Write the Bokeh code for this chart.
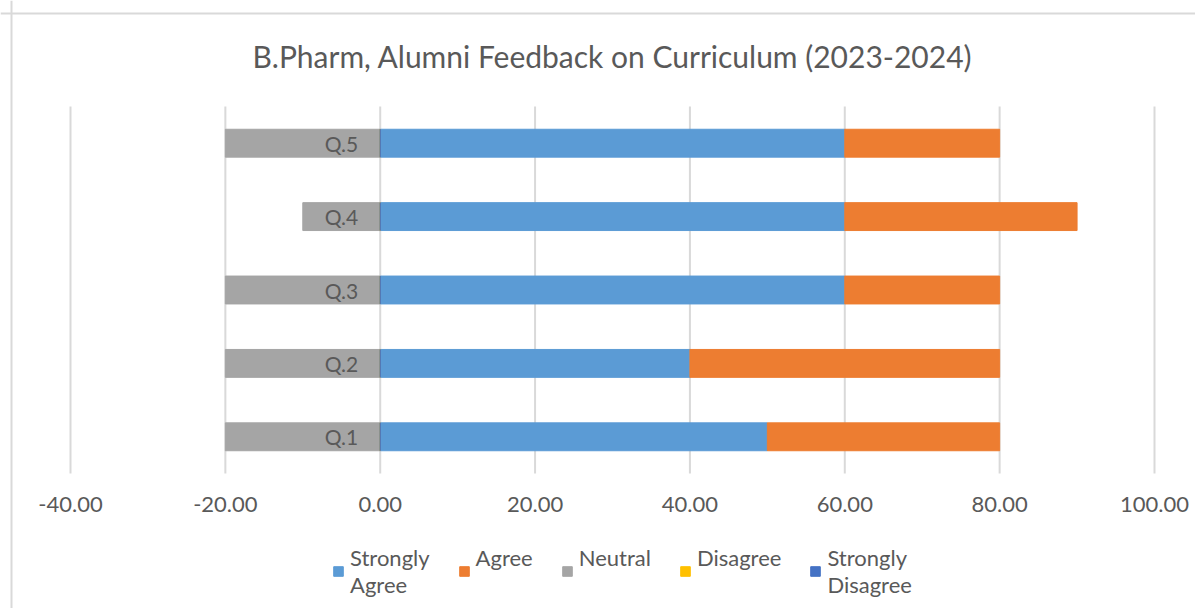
from bokeh.plotting import figure
from bokeh.models import (Range1d, FixedTicker, NumeralTickFormatter, LinearAxis,
                          Legend, LegendItem, ColumnDataSource, Label, Span)
from bokeh.embed import file_html
from bokeh.resources import INLINE

questions = ["Q.1", "Q.2", "Q.3", "Q.4", "Q.5"]
strongly_agree = [50, 40, 60, 60, 60]
agree = [30, 40, 20, 30, 20]
neutral = [20, 20, 20, 10, 20]
disagree = [0, 0, 0, 0, 0]
strongly_disagree = [0, 0, 0, 0, 0]
x_ticks = [-40, -20, 0, 20, 40, 60, 80, 100]
title_text = "B.Pharm, Alumni Feedback on Curriculum (2023-2024)"

FONT = "Lato"
TXT = "#595959"
GRID = "#d9d9d9"

# ---- layout (pixels) ----
W, H = 1195, 608
PLOT_L, PLOT_R = 70, 1154      # x = -40 .. 100
PLOT_T, PLOT_B = 106, 473      # category band top/bottom
XMIN, XMAX = x_ticks[0], x_ticks[-1]
n = len(questions)
ppx = (PLOT_R - PLOT_L) / (XMAX - XMIN)
ppy = (PLOT_B - PLOT_T) / n
x0 = XMIN - PLOT_L / ppx
x1 = XMAX + (W - PLOT_R) / ppx
y_top_band = n + 0.5
y_bot_band = 0.5
y1 = y_top_band + PLOT_T / ppy
y0 = y_bot_band - (H - PLOT_B) / ppy


def px2x(px):
    return x0 + px / ppx


def px2y(py):
    return y1 - py / ppy


p = figure(width=W, height=H, output_backend="svg", toolbar_location=None,
           x_range=Range1d(x0, x1), y_range=Range1d(y0, y1),
           x_axis_location=None, y_axis_location=None,
           min_border=0)
p.outline_line_color = None
p.background_fill_color = "white"
p.border_fill_color = "white"
p.xgrid.grid_line_color = None
p.ygrid.grid_line_color = None

# chart border (left & top edges visible)
p.add_layout(Span(location=px2x(11), dimension="height", line_color=GRID, line_width=2))
p.add_layout(Span(location=px2y(13), dimension="width", line_color=GRID, line_width=2))

# vertical gridlines limited to the category band
p.segment(x0=x_ticks, x1=x_ticks, y0=[y_bot_band] * len(x_ticks), y1=[y_top_band] * len(x_ticks),
          line_color=GRID, line_width=2)

ypos = list(range(1, n + 1))
a_right = [s + a for s, a in zip(strongly_agree, agree)]
n_left = [-v for v in neutral]
src = ColumnDataSource(dict(y=ypos, sa=strongly_agree, ar=a_right, nl=n_left,
                            zero=[0] * n, d=disagree, sd=strongly_disagree))
BH = 0.38
r_sa = p.hbar(y="y", left="zero", right="sa", height=BH, source=src, color="#5B9BD5")
r_a = p.hbar(y="y", left="sa", right="ar", height=BH, source=src, color="#ED7D31")
r_n = p.hbar(y="y", left="nl", right="zero", height=BH, source=src, color="#A5A5A5")
r_d = p.hbar(y="y", left="zero", right="d", height=BH, source=src, color="#FFC000")
r_sd = p.hbar(y="y", left="zero", right="sd", height=BH, source=src, color="#4472C4")

# x axis at bottom of band
xa = LinearAxis(fixed_location=y_bot_band, ticker=FixedTicker(ticks=x_ticks),
                formatter=NumeralTickFormatter(format="0.00"))
xa.axis_line_color = None
xa.major_tick_line_color = None
xa.minor_tick_line_color = None
xa.major_tick_out = 0
xa.major_label_text_font = FONT
xa.major_label_text_font_size = "22px"
xa.major_label_text_color = TXT
xa.major_label_standoff = 23
p.add_layout(xa, "below")

# category axis at x = 0
ya = LinearAxis(fixed_location=0, ticker=FixedTicker(ticks=ypos),
                major_label_overrides={yy: q for yy, q in zip(ypos, questions)})
ya.axis_line_color = None
ya.major_tick_line_color = None
ya.minor_tick_line_color = None
ya.major_tick_out = 0
ya.major_label_text_font = FONT
ya.major_label_text_font_size = "21px"
ya.major_label_text_color = TXT
ya.major_label_standoff = 22
p.add_layout(ya, "left")

# title
p.add_layout(Label(x=(XMIN + XMAX) / 2, y=px2y(55), text=title_text,
                   text_align="center", text_baseline="middle",
                   text_font=FONT, text_font_size="30px", text_color=TXT))

legend = Legend(items=[
    LegendItem(label="Strongly\nAgree", renderers=[r_sa]),
    LegendItem(label="Agree\n ", renderers=[r_a]),
    LegendItem(label="Neutral\n ", renderers=[r_n]),
    LegendItem(label="Disagree\n ", renderers=[r_d]),
    LegendItem(label="Strongly\nDisagree", renderers=[r_sd]),
], orientation="horizontal", location=(332, H - 598))
legend.border_line_color = None
legend.background_fill_alpha = 0
legend.label_text_font = FONT
legend.label_text_font_size = "22px"
legend.label_text_color = TXT
legend.glyph_width = 12
legend.glyph_height = 12
legend.label_standoff = 6
legend.spacing = 28
legend.margin = 0
legend.padding = 0
p.add_layout(legend, "center")

open("out.html", "w").write(file_html(p, INLINE))
